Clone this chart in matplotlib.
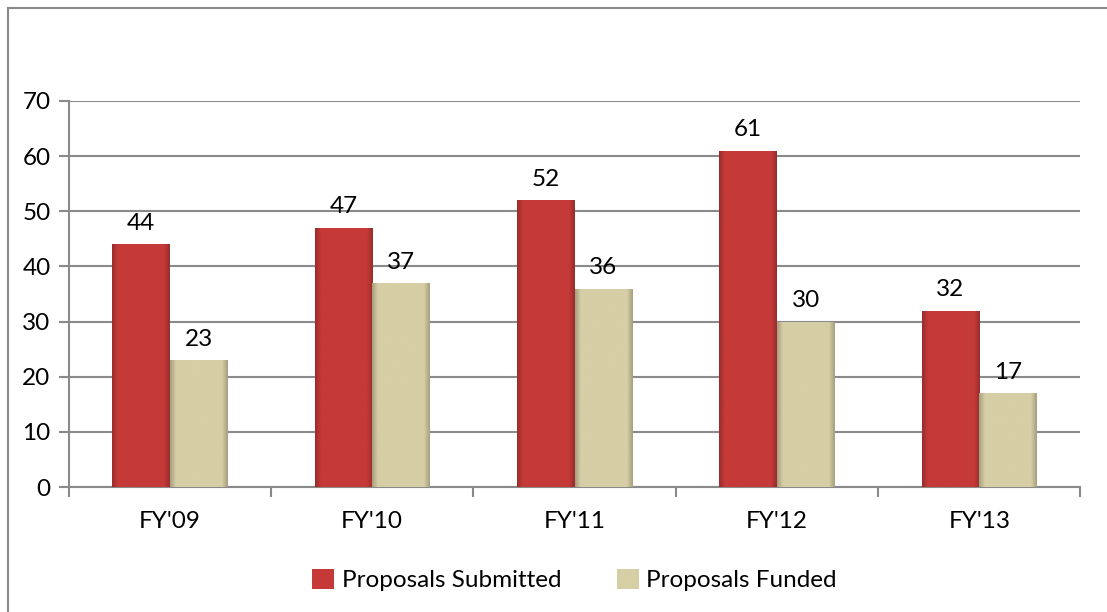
import matplotlib
matplotlib.use("Agg")
import matplotlib.pyplot as plt
import matplotlib.colors as mcolors
import numpy as np

years = ["FY'09", "FY'10", "FY'11", "FY'12", "FY'13"]
submitted = [44, 47, 52, 61, 32]
funded = [23, 37, 36, 30, 17]

plt.rcParams['font.family'] = ['Lato', 'DejaVu Sans']
fs = 17.5

fig = plt.figure(figsize=(11.07, 6.12), dpi=100)
ax = fig.add_axes([0.062, 0.204, 0.914, 0.631])

# outer chart frame (only left and top edges show)
fig.add_artist(plt.Line2D([0.0075, 0.0075], [0.0, 0.987], color='#8a8a8a', lw=1.5))
fig.add_artist(plt.Line2D([0.0075, 1.0], [0.987, 0.987], color='#8a8a8a', lw=1.5))

index = np.arange(len(years))
bar_width = 0.285

red = '#c53a38'
beige = '#d6cea5'

b1 = ax.bar(index - bar_width / 2, submitted, bar_width, color=red,
            label='Proposals Submitted', zorder=3)
b2 = ax.bar(index + bar_width / 2, funded, bar_width, color=beige,
            label='Proposals Funded', zorder=3)


def shade(bars, base):
    # soft bevel: flat middle, darker towards the sides
    rgb = np.array(mcolors.to_rgb(base))
    t = np.linspace(0, 1, 80)
    prof = 1 - 0.22 * np.clip(np.abs(t - 0.5) * 2 - 0.8, 0, None) / 0.2
    img = np.clip(rgb[None, :] * prof[:, None], 0, 1)[None, :, :]
    for p in bars:
        x0, w, h = p.get_x(), p.get_width(), p.get_height()
        im = ax.imshow(img, extent=[x0, x0 + w, 0, h], aspect='auto',
                       zorder=3.5, interpolation='bilinear')
        im.set_clip_path(p)


shade(b1, red)
shade(b2, beige)
ax.set_xlim(-0.5, len(years) - 0.5)
ax.set_ylim(0, 70)

for p, v in zip(b1, submitted):
    ax.text(p.get_x() + p.get_width() / 2, v + 1.9, str(v), ha='center',
            va='bottom', fontsize=fs, zorder=5)
for p, v in zip(b2, funded):
    ax.text(p.get_x() + p.get_width() / 2, v + 1.9, str(v), ha='center',
            va='bottom', fontsize=fs, zorder=5)

ax.set_yticks(range(0, 71, 10))
ax.yaxis.grid(True, color='#8a8a8a', lw=1.5, zorder=0)
ax.set_axisbelow(True)
ax.set_xticks(index)
ax.set_xticklabels(years)
ax.set_xticks(np.arange(-0.5, len(years)), minor=True)
ax.tick_params(axis='x', which='major', length=0, pad=17, labelsize=fs)
ax.tick_params(axis='x', which='minor', length=7, color='#8a8a8a', width=1.5)
ax.tick_params(axis='y', length=7, color='#8a8a8a', width=1.5, labelsize=fs, pad=6)

for s in ['top', 'right']:
    ax.spines[s].set_visible(False)
for s in ['left', 'bottom']:
    ax.spines[s].set_color('#8a8a8a')
    ax.spines[s].set_linewidth(1.5)

ax.legend(loc='center', bbox_to_anchor=(0.5, -0.241), ncol=2, frameon=False,
          fontsize=fs, handlelength=0.9, handleheight=0.9, handletextpad=0.3,
          columnspacing=2.3)

fig.savefig('out.png', dpi=100)
